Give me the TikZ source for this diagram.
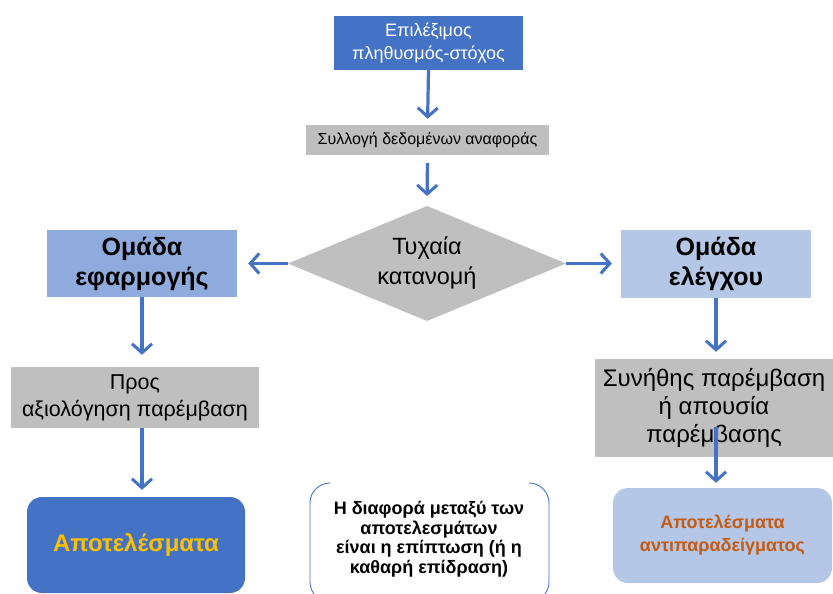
\documentclass[tikz,border=0pt]{standalone}
\usepackage{fontspec}
\setmainfont{Liberation Sans}
\usetikzlibrary{arrows.meta}
\definecolor{mblue}{HTML}{4472C4}
\definecolor{lblue}{HTML}{8FAADC}
\definecolor{llblue}{HTML}{B4C7E7}
\definecolor{mgray}{HTML}{BFBFBF}
\definecolor{gold}{HTML}{FFC000}
\definecolor{ornge}{HTML}{C55A11}
\newcommand{\fs}[2]{\fontsize{#1}{#2}\selectfont}
\tikzset{
  x=1pt,y=1pt,
  box/.style={rectangle,inner sep=0pt,align=center},
  flow/.style={draw=mblue,line width=3.2pt,-{Straight Barb[length=9pt,width=20pt,line width=3pt]}},
}
\begin{document}
\begin{tikzpicture}
\useasboundingbox (0,0) rectangle (833,-594);
\node[box,fill=mblue,text=white,minimum width=189,minimum height=54,font=\fs{18}{23}] (top) at (428.5,-43) {Επιλέξιμος\\πληθυσμός-στόχος};
\node[box,fill=mgray,minimum width=243,minimum height=30,font=\fs{16}{18}] (coll) at (427.5,-140) {Συλλογή δεδομένων αναφοράς};
% diamond
\coordinate (dN) at (427,-206);
\coordinate (dS) at (427,-321);
\coordinate (dW) at (288,-263.5);
\coordinate (dE) at (566,-263.5);
\fill[mgray] (dN) -- (dE) -- (dS) -- (dW) -- cycle;
\node[box,font=\fs{23.5}{30}] (rand) at (427,-263.5) {Τυχαία\\κατανομή};
\node[box,fill=lblue,minimum width=190,minimum height=67,font=\bfseries\fs{25}{30}] (grpA) at (142,-263.5) {Ομάδα\\εφαρμογής};
\node[box,fill=llblue,minimum width=190,minimum height=68,font=\bfseries\fs{25}{30}] (grpB) at (716,-264) {Ομάδα\\ελέγχου};
\node[box,fill=mgray,minimum width=248,minimum height=61,font=\fs{21.5}{27}] (intA) at (135,-397.5) {Προς\\αξιολόγηση παρέμβαση};
\node[box,fill=mgray,minimum width=238,minimum height=98,font=\fs{24}{28}] (intB) at (714,-408) {Συνήθης παρέμβαση\\ή απουσία\\παρέμβασης};
\node[box,fill=mblue,rounded corners=15pt,minimum width=218,minimum height=96,text=gold,font=\bfseries\fs{24}{28}] (resA) at (136,-545) {Αποτελέσματα};
\node[box,fill=llblue,rounded corners=15pt,minimum width=219,minimum height=95,text=ornge,font=\bfseries\fs{18}{23}] (resB) at (722.5,-535.5) {Αποτελέσματα\\αντιπαραδείγματος};
\node[box,font=\bfseries\fs{18}{19.5}] (diff) at (429,-539) {Η διαφορά μεταξύ των\\αποτελεσμάτων\\είναι η επίπτωση (ή η\\καθαρή επίδραση)};
\begin{scope}
\clip (0,0) rectangle (833,-594);
\draw[mblue,line width=0.9pt,rounded corners=20pt] (330,-483) -- (310,-483) -- (310,-602) -- (330,-602);
\draw[mblue,line width=0.9pt,rounded corners=20pt] (529,-483) -- (549,-483) -- (549,-602) -- (529,-602);
\end{scope}
\coordinate (a2) at (intA.south -| grpA.south);
\coordinate (b2) at ([yshift=30pt]intB.south -| grpB.south);
\draw[flow,shorten >=6pt] (top.south) -- (coll.north);
\draw[flow,shorten <=8pt,shorten >=10pt] (coll.south) -- (dN);
\draw[flow,shorten >=11pt] (dW) -- (dW -| grpA.east);
\draw[flow,shorten >=9pt] (dE) -- (dE -| grpB.west);
\draw[flow,shorten >=12pt] (grpA.south) -- (grpA.south |- intA.north);
\draw[flow,shorten >=7pt] (a2) -- (a2 |- resA.north);
\draw[flow,shorten >=7pt] (grpB.south) -- (grpB.south |- intB.north);
\draw[flow,shorten >=5pt] (b2) -- (b2 |- resB.north);
\end{tikzpicture}
\end{document}
